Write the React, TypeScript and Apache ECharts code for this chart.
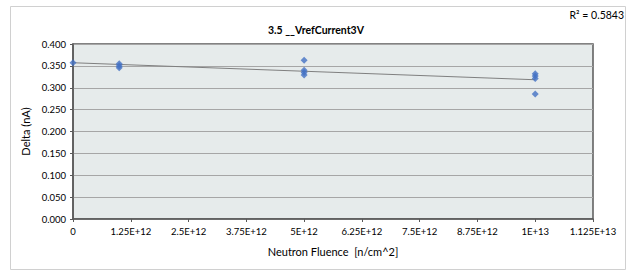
import React, { useEffect, useRef } from "react";
import * as echarts from "echarts";

const fluence0 = [0];
const delta0 = [0.357];
const fluence1 = [1e12, 1e12, 1e12];
const delta1 = [0.355, 0.350, 0.346];
const fluence5 = [5e12, 5e12, 5e12, 5e12];
const delta5 = [0.363, 0.340, 0.335, 0.329];
const fluence10 = [1e13, 1e13, 1e13, 1e13];
const delta10 = [0.332, 0.327, 0.321, 0.286];

const xs = [...fluence0, ...fluence1, ...fluence5, ...fluence10];
const ys = [...delta0, ...delta1, ...delta5, ...delta10];

const titleText = "3.5 __VrefCurrent3V";
const r2Text = "R² = 0.5843";
const xName = "Neutron Fluence  [n/cm^2]";
const yName = "Delta (nA)";

function linReg(x: number[], y: number[]) {
  const n = x.length;
  const mx = x.reduce((a, b) => a + b, 0) / n;
  const my = y.reduce((a, b) => a + b, 0) / n;
  let sxy = 0, sxx = 0;
  for (let i = 0; i < n; i++) {
    sxy += (x[i] - mx) * (y[i] - my);
    sxx += (x[i] - mx) * (x[i] - mx);
  }
  const b = sxy / sxx;
  return { a: my - b * mx, b };
}

export default function App() {
  const ref = useRef<HTMLDivElement>(null);
  useEffect(() => {
    if (!ref.current) return;
    const chart = echarts.init(ref.current, null, { renderer: "svg" });
    const { a, b } = linReg(xs, ys);
    const xMin = Math.min(...xs);
    const xMax = Math.max(...xs);
    const font = "Lato, 'Open Sans', sans-serif";
    chart.setOption({
      animation: false,
      backgroundColor: "#ffffff",
      textStyle: { fontFamily: font },
      graphic: [
        {
          type: "rect",
          shape: { x: 10.5, y: 6.5, width: 615, height: 263 },
          style: { fill: "none", stroke: "#d0d0d0", lineWidth: 1 },
          silent: true,
          z: -1,
        },
        {
          type: "text",
          right: 8,
          top: 9,
          style: { text: r2Text, fill: "#000", font: `10.5px ${font}` },
        },
      ],
      title: {
        text: titleText,
        left: "center",
        top: 19,
        textStyle: { fontSize: 10.5, fontWeight: "bold", color: "#000", fontFamily: font },
      },
      grid: {
        left: 73,
        right: 39,
        top: 44,
        bottom: 54,
        show: true,
        backgroundColor: "#e6ebeb",
        borderColor: "#595959",
        borderWidth: 1.5,
      },
      xAxis: {
        type: "value",
        min: 0,
        max: 1.125e13,
        interval: 1.25e12,
        name: xName,
        nameLocation: "middle",
        nameGap: 27,
        nameTextStyle: { fontSize: 11, color: "#000", fontFamily: font },
        axisLine: { show: true, lineStyle: { color: "#595959", width: 1.5 } },
        axisTick: { show: true, length: 3, lineStyle: { color: "#595959" } },
        splitLine: { show: false },
        axisLabel: {
          fontSize: 9.5,
          color: "#000",
          margin: 7,
          formatter: (v: number) =>
            v === 0 ? "0" : Number(v.toPrecision(6)).toExponential().toUpperCase(),
        },
      },
      yAxis: {
        type: "value",
        min: 0,
        max: 0.4,
        interval: 0.05,
        name: yName,
        nameLocation: "middle",
        nameGap: 40,
        nameTextStyle: { fontSize: 11, color: "#000", fontFamily: font },
        axisLine: { show: true, lineStyle: { color: "#595959", width: 1.5 } },
        axisTick: { show: true, length: 3, lineStyle: { color: "#595959" } },
        splitLine: { show: true, lineStyle: { color: "#a6a6a6", width: 1 } },
        axisLabel: {
          fontSize: 9.5,
          color: "#000",
          margin: 7,
          formatter: (v: number) => v.toFixed(3),
        },
      },
      series: [
        {
          type: "line",
          data: [
            [xMin, a + b * xMin],
            [xMax, a + b * xMax],
          ],
          symbol: "none",
          lineStyle: { color: "#7f7f7f", width: 1 },
          silent: true,
          z: 1,
        },
        {
          type: "scatter",
          data: xs.map((x, i) => [x, ys[i]]),
          symbol: "diamond",
          symbolSize: 7,
          itemStyle: { color: "#4472c4" },
          z: 2,
        },
      ],
    });
    return () => chart.dispose();
  }, []);
  return (
    <div
      ref={ref}
      style={{ position: "fixed", left: 0, top: 0, width: 632, height: 273 }}
    />
  );
}
